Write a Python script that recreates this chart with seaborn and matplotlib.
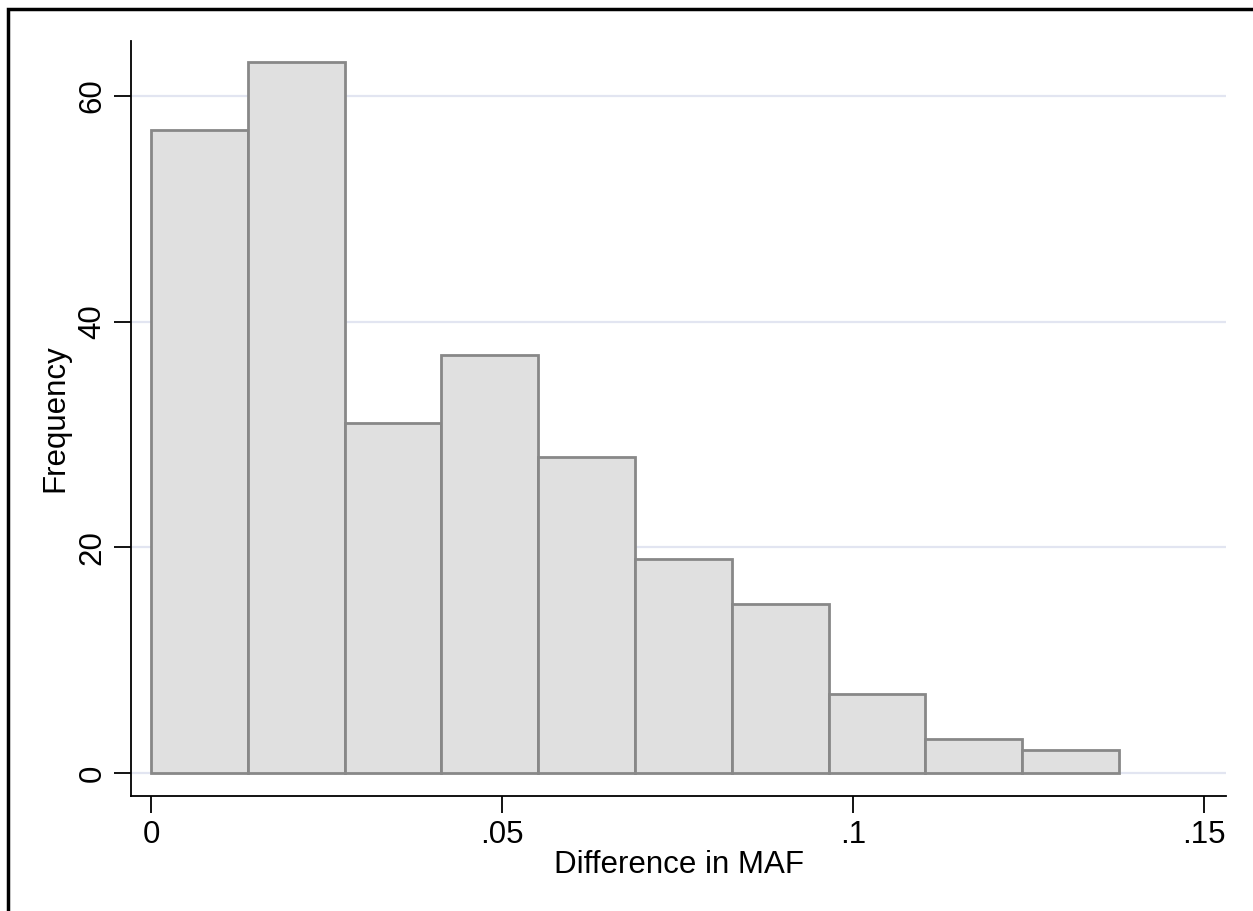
import numpy as np
import pandas as pd
import matplotlib
matplotlib.use('Agg')
import matplotlib.pyplot as plt
import seaborn as sns
from matplotlib.patches import Rectangle

# --- Data ---
BIN_WIDTH = 0.01379
N_BINS = 10
counts = [57, 63, 31, 37, 28, 19, 15, 7, 3, 2]
x_ticks = [0, 0.05, 0.1, 0.15]
x_tick_labels = ['0', '.05', '.1', '.15']
y_ticks = [0, 20, 40, 60]
y_tick_labels = ['0', '20', '40', '60']

bin_edges = np.arange(N_BINS + 1) * BIN_WIDTH
bin_mids = (bin_edges[:-1] + bin_edges[1:]) / 2
df = pd.DataFrame({'maf_diff': bin_mids, 'n': counts})

sns.set_style('white')
plt.rcParams['font.family'] = ['Liberation Sans', 'DejaVu Sans']
plt.rcParams['text.color'] = 'black'
plt.rcParams['axes.labelcolor'] = 'black'
plt.rcParams['xtick.color'] = 'black'
plt.rcParams['ytick.color'] = 'black'

FS = 22.5
W, H, DPI = 1253, 911, 100
fig = plt.figure(figsize=(W / DPI, H / DPI), dpi=DPI)
ax = fig.add_axes([131 / W, 1 - 796 / H, (1226 - 131) / W, (796 - 41) / H])

# Stata-style outer frame (left and top visible)
fig.patches.append(Rectangle((8 / W, -0.1), 1.2, 1 - 9 / H + 0.1,
                             transform=fig.transFigure, fill=False,
                             edgecolor='black', linewidth=2.5, zorder=0))

for yv in y_ticks:
    ax.axhline(yv, color='#e2e5f1', linewidth=1.6, zorder=0)

sns.histplot(data=df, x='maf_diff', weights='n', bins=N_BINS,
             binrange=(bin_edges[0], bin_edges[-1]), ax=ax,
             color='#e0e0e0', edgecolor='#888888', linewidth=2,
             alpha=1, zorder=2)

ax.set_xlim(-0.00285, 0.15313)
ax.set_ylim(-2.04, 64.87)
ax.set_xticks(x_ticks)
ax.set_xticklabels(x_tick_labels)
ax.set_yticks(y_ticks)
ax.set_yticklabels(y_tick_labels, rotation=90, va='center')
ax.tick_params(axis='both', direction='out', length=12, width=1.3,
               color='black', labelcolor='black', labelsize=FS, pad=5,
               bottom=True, left=True)

for side in ['top', 'right']:
    ax.spines[side].set_visible(False)
for side in ['left', 'bottom']:
    ax.spines[side].set_color('black')
    ax.spines[side].set_linewidth(1.3)

ax.set_xlabel('Difference in MAF', fontsize=FS, labelpad=0)
ax.set_ylabel('Frequency', fontsize=FS, labelpad=5)
ax.grid(False)

fig.savefig('out.png', dpi=DPI)
